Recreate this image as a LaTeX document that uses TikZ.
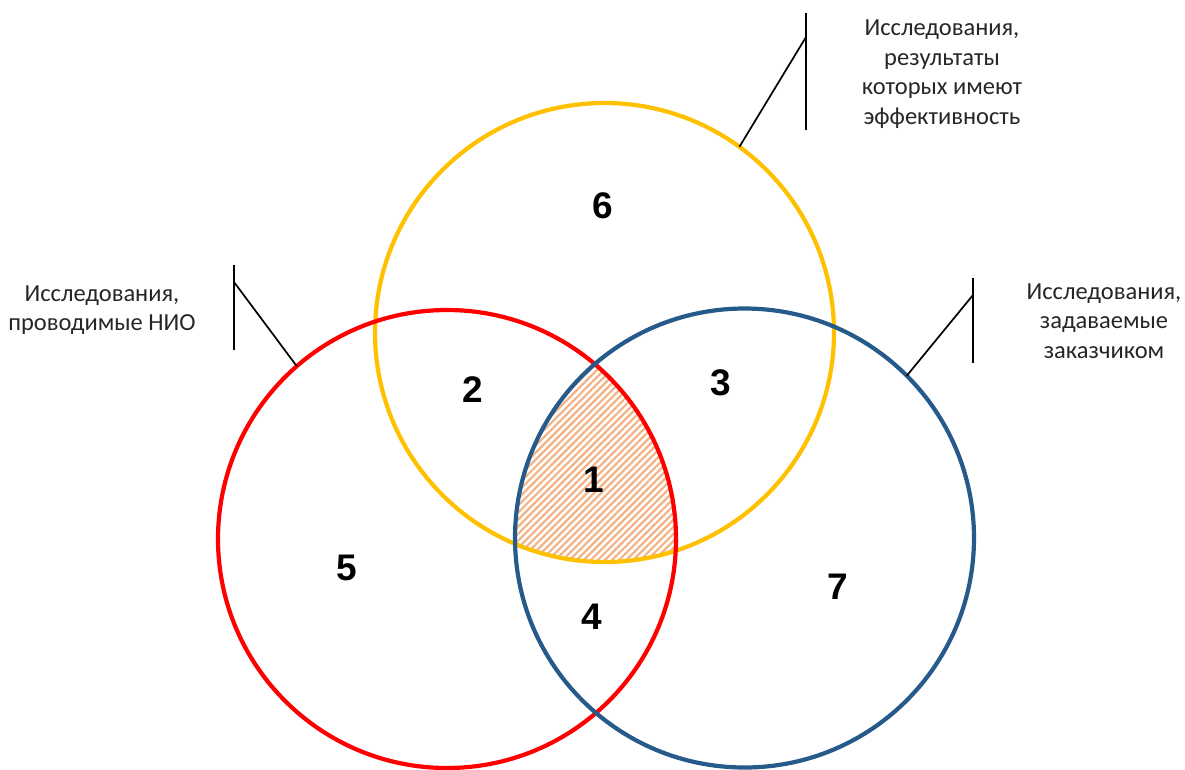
\documentclass[tikz,border=0pt]{standalone}
\usepackage{fontspec}
\setmainfont{Carlito}
\newfontfamily\digitfont{Liberation Sans}
\usetikzlibrary{patterns.meta}
\definecolor{setyellow}{HTML}{FFC000}
\definecolor{setred}{HTML}{FF0000}
\definecolor{setblue}{HTML}{255A8A}
\definecolor{hatch}{HTML}{F4B183}
\begin{document}
\begin{tikzpicture}[
x=1pt, y=-1pt,
venn/.style={circle, draw, line width=4.2pt, inner sep=0pt, outer sep=0pt, minimum size=459pt},
region/.style={font=\digitfont\bfseries\fontsize{37}{37}\selectfont},
caption/.style={align=center, font=\fontsize{24.5}{29.5}\selectfont, text=black!85},
callout/.style={draw=black, line width=1.7pt},
]
\useasboundingbox (0,0) rectangle (1185,769);

% hatched common part
\begin{scope}
\clip (604.5,332.5) circle [radius=229.5pt];
\clip (447,539) circle [radius=229pt];
\fill[pattern={Lines[angle=45, distance=5pt, line width=2.2pt]}, pattern color=hatch]
  (744.5,538) circle [radius=229.5pt];
\end{scope}

\node[venn, draw=setyellow] (Y) at (604.5,332.5) {};
\node[venn, draw=setred, minimum size=458pt] (R) at (447,539) {};
\node[venn, draw=setblue] (B) at (744.5,538) {};

\node[region] (n1) at (594,480) {1};
\node[region] (n2) at (473,390) {2};
\node[region] (n3) at (721,383) {3};
\node[region] (n4) at (592,617) {4};
\node[region] (n5) at (347,568) {5};
\node[region] (n6) at (603,206) {6};
\node[region] (n7) at (838,587) {7};

\node[caption] (tR) at (102,310) {Исследования,\\проводимые НИО};
\node[caption] (tY) at (942,74) {Исследования,\\результаты\\которых имеют\\эффективность};
\node[caption] (tB) at (1104,321) {Исследования,\\задаваемые\\заказчиком};

% callouts
\coordinate (barR1) at (234,265);
\coordinate (barR2) at (234,350);
\coordinate (kneeR) at (234,282);
\coordinate (barY1) at (806,13);
\coordinate (barY2) at (806,130);
\coordinate (kneeY) at (806,37);
\coordinate (barB1) at (973,278);
\coordinate (barB2) at (973,363);
\coordinate (kneeB) at (973,295);

\draw[callout] (barR1) -- (barR2);
\draw[callout] (kneeR) -- (R.131.7);
\draw[callout] (barY1) -- (barY2);
\draw[callout] (kneeY) -- (Y.54.5);
\draw[callout] (barB1) -- (barB2);
\draw[callout] (kneeB) -- (B.45.8);
\end{tikzpicture}
\end{document}
